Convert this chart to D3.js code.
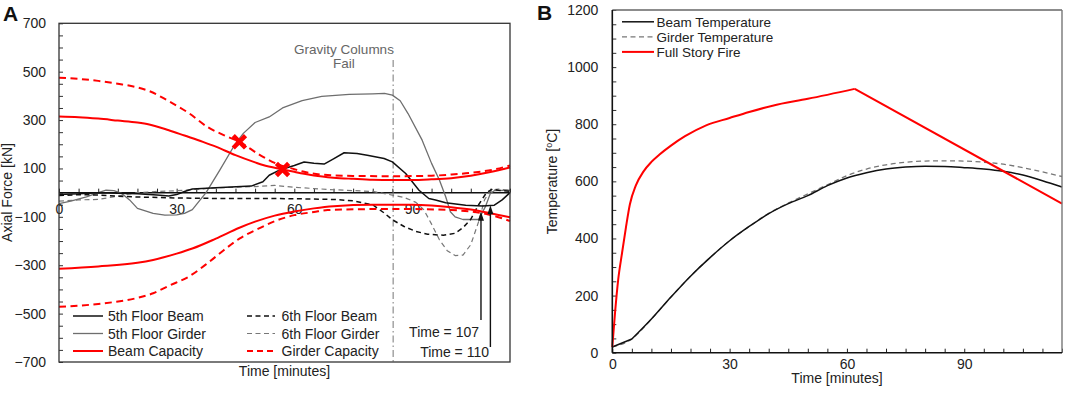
<!DOCTYPE html>
<html>
<head>
<meta charset="utf-8">
<script src="https://cdn.jsdelivr.net/npm/d3@7"></script>
<style>
  html, body { margin: 0; padding: 0; background: #fff; }
  svg { display: block; font-family: "Liberation Sans", Arial, sans-serif; }
</style>
</head>
<body>
<svg id="chart" width="1065" height="395"></svg>
<script>
// ---------- Panel A data: [time (min), axial force (kN)] ----------
const floor5Beam = [[0,-8],[5,-5],[10,0],[15,-2],[20,-5],[25,-10],[28,-14],[30,-8],[32,5],[34,15],[40,20],[49,27],[52,45],[53.6,72],[56.2,93],[57.5,100],[60,112],[62.5,127],[65,122],[67.6,118],[70,140],[72.7,165],[76,162],[78.6,155],[82.9,141],[85,127],[88.4,79],[91.8,10],[94.3,-24],[96,-30],[98.6,-42],[103.7,-52],[108,-55],[111,-52],[113,-30],[115,0]];
const floor5Girder = [[0,-45],[3,-35],[7,-17],[10,0],[12,10],[14,8],[16,-3],[18,-30],[20,-65],[24,-86],[27,-93],[30,-92],[32,-86],[34,-70],[36,-30],[37.5,0],[41,93],[45,203],[47,245],[50,290],[53.6,313],[57,350],[62,380],[67,398],[74,406],[80,408],[83,410],[85,403],[87,380],[89,327],[92.6,217],[95,121],[97,52],[98.6,-17],[99.8,-79],[101,-100],[103,-111],[107,-111],[108.7,-59],[110,-3],[111,8],[115,10]];
const floor6Beam = [[0,-12],[5,-8],[10,-10],[15,-15],[20,-18],[30,-22],[40,-24],[50,-24],[60,-25],[70,-28],[75,-34],[80,-50],[83,-85],[85,-112],[88,-140],[91,-160],[94,-172],[98,-176],[101,-168],[103,-145],[105,-110],[107,-50],[109,0],[110.5,15],[112,10],[115,5]];
const floor6Girder = [[0,-35],[5,-30],[10,-28],[13,-20],[17,-8],[20,0],[25,5],[30,8],[40,20],[50,25],[55,30],[60,22],[65,17],[70,12],[80,5],[85,-10],[88,-20],[91,-40],[93,-70],[95,-130],[97,-195],[99,-240],[101,-260],[103,-258],[105,-215],[107,-120],[108.5,-30],[110,10],[112,15],[115,10]];
const beamCapPos = [[0,315],[5,312],[10,306],[15,298],[20,290],[23,282],[28,258],[32,236],[36.7,210],[40,190],[45,155],[50,125],[52,114],[57,96],[60,86],[62.5,78],[65,71],[70,62],[75,57],[80,53],[85,52],[90,52],[95,55],[100,60],[105,70],[110,85],[115,104]];
const beamCapNeg = [[0,-315],[10,-305],[20,-290],[24,-278],[30,-252],[34,-231],[40,-190],[46,-145],[50,-120],[55,-95],[60,-78],[65,-65],[70,-56],[80,-50],[90,-50],[95,-53],[100,-60],[105,-70],[110,-85],[115,-102]];
const girderCapPos = [[0,475],[5,470],[10,462],[15,450],[20,435],[23,420],[28,378],[33,330],[38,270],[42,238],[46,210],[51,158],[56,116],[60,97],[62.5,86],[67.5,74],[75,69],[85,68],[95,70],[100,75],[105,82],[111,96],[115,112]];
const girderCapNeg = [[0,-472],[10,-460],[20,-435],[24,-416],[28,-385],[33,-348],[38,-290],[42,-238],[46,-190],[51,-148],[55,-118],[60,-93],[65,-80],[68.5,-72],[80,-68],[90,-68],[100,-72],[105,-78],[110,-92],[115,-117]];
const failureMarks = [[46,210],[57,96]];
const columnFailTime = 85.2;
const arrowTimes = [107.6, 110];
const arrowTips = [-79, -52];
const arrowLabels = ["Time = 107", "Time = 110"];
const yTicksA = [700, 500, 300, 100, -100, -300, -500, -700];
const xTicksA = [0, 30, 60, 90];

// ---------- Panel B data: [time (min), temperature (°C)] ----------
const fireTemp = [[0,20],[0.7,140],[1.5,255],[2.5,350],[3.5,440],[4.5,520],[6,585],[8,635],[10,668],[12,693],[15,725],[18.6,758],[24,796],[30,822],[35,843],[41,865],[50,889],[62,924],[115,522]];
const beamTemp = [[0,20],[5,48],[10,118],[15,195],[20,268],[25,333],[30,392],[35,442],[40,487],[45,522],[50,550],[55,585],[60,612],[65,630],[70,643],[75,650],[80,653],[85,652],[90,648],[95,643],[100,635],[105,622],[110,602],[115,580]];
const girderTemp = [[0,20],[5,48],[10,118],[15,195],[20,268],[25,333],[30,392],[35,442],[40,488],[45,524],[50,556],[55,588],[60,620],[65,643],[70,658],[75,667],[80,671],[85,672],[90,671],[95,667],[100,660],[105,648],[110,633],[115,617]];
const yTicksB = [0, 200, 400, 600, 800, 1000, 1200];
const xTicksB = [0, 30, 60, 90];

const svg = d3.select("#chart");
const FONT = 14;

// ---------- Panel A ----------
const xA = d3.scaleLinear().domain([0, 115]).range([59, 510]);
const yA = d3.scaleLinear().domain([-700, 700]).range([362, 23.3]);
const gA = svg.append("g");

gA.append("g").attr("transform", `translate(${xA(0)},0)`)
  .call(d3.axisLeft(yA).tickValues(d3.range(-700, 701, 50)).tickSizeInner(-4).tickSizeOuter(0).tickFormat(""))
  .call(g => g.select(".domain").remove())
  .call(g => g.selectAll("line").attr("stroke", "#333"));
gA.append("g").attr("transform", `translate(${xA(0)},0)`)
  .call(d3.axisLeft(yA).tickValues(yTicksA).tickSize(0).tickPadding(13).tickFormat(d3.format("d")))
  .call(g => g.select(".domain").remove())
  .call(g => g.selectAll("text").attr("font-size", FONT).attr("fill", "#222").attr("font-family", "Liberation Sans, Arial"));

gA.append("g").attr("transform", `translate(0,${yA(0)})`)
  .call(d3.axisBottom(xA).tickValues(d3.range(0, 116, 5)).tickSizeInner(-4).tickSizeOuter(0).tickFormat(""))
  .call(g => g.select(".domain").remove())
  .call(g => g.selectAll("line").attr("stroke", "#222"));
gA.append("g").attr("transform", `translate(0,${yA(0)})`)
  .call(d3.axisBottom(xA).tickValues(xTicksA).tickSize(0).tickPadding(11.5).tickFormat(d3.format("d")))
  .call(g => g.select(".domain").remove())
  .call(g => g.selectAll("text").attr("font-size", FONT).attr("fill", "#222").attr("font-family", "Liberation Sans, Arial"));

gA.append("line").attr("x1", xA(0)).attr("x2", xA(115)).attr("y1", yA(0)).attr("y2", yA(0))
  .attr("stroke", "#111").attr("stroke-width", 1.5);

gA.append("line").attr("x1", xA(columnFailTime)).attr("x2", xA(columnFailTime))
  .attr("y1", 60).attr("y2", yA(-700))
  .attr("stroke", "#777").attr("stroke-width", 1).attr("stroke-dasharray", "7,3,1.5,3");
gA.append("text").attr("x", 344).attr("y", 54).attr("text-anchor", "middle")
  .attr("font-size", 13.5).attr("fill", "#666").text("Gravity Columns");
gA.append("text").attr("x", 344).attr("y", 68).attr("text-anchor", "middle")
  .attr("font-size", 13.5).attr("fill", "#666").text("Fail");

const lineA = d3.line().x(d => xA(d[0])).y(d => yA(d[1]));
const smoothA = d3.line().curve(d3.curveMonotoneX).x(d => xA(d[0])).y(d => yA(d[1]));

const seriesA = [
  { data: floor6Girder, gen: lineA, color: "#777", width: 1.2, dash: "5,3.5" },
  { data: floor5Girder, gen: lineA, color: "#6e6e6e", width: 1.3, dash: null },
  { data: floor6Beam, gen: lineA, color: "#111", width: 1.5, dash: "5,3.5" },
  { data: floor5Beam, gen: lineA, color: "#111", width: 1.5, dash: null },
  { data: beamCapPos, gen: smoothA, color: "#f00", width: 2, dash: null },
  { data: beamCapNeg, gen: smoothA, color: "#f00", width: 2, dash: null },
  { data: girderCapPos, gen: smoothA, color: "#f00", width: 2, dash: "7,4.5" },
  { data: girderCapNeg, gen: smoothA, color: "#f00", width: 2, dash: "7,4.5" }
];
seriesA.forEach(s => {
  gA.append("path").attr("d", s.gen(s.data)).attr("fill", "none")
    .attr("stroke", s.color).attr("stroke-width", s.width)
    .attr("stroke-dasharray", s.dash).attr("stroke-linejoin", "round");
});

failureMarks.forEach(m => {
  const cx = xA(m[0]), cy = yA(m[1]);
  gA.append("path").attr("d", d3.symbol().type(d3.symbolX).size(100)())
    .attr("transform", `translate(${cx},${cy})`)
    .attr("fill", "none").attr("stroke", "#f00").attr("stroke-width", 4.5);
});

const arrowBottoms = [320, 347];
const labelBaselines = [336.5, 356.5];
const labelRight = [479, 489];
arrowTimes.forEach((t, i) => {
  const x = xA(t), tipY = yA(arrowTips[i]);
  gA.append("line").attr("x1", x).attr("x2", x).attr("y1", arrowBottoms[i]).attr("y2", tipY + 7)
    .attr("stroke", "#111").attr("stroke-width", 1.4);
  gA.append("path").attr("d", `M${x},${tipY} L${x - 3},${tipY + 9} L${x + 3},${tipY + 9} Z`).attr("fill", "#111");
  gA.append("text").attr("x", labelRight[i]).attr("y", labelBaselines[i]).attr("text-anchor", "end")
    .attr("font-size", FONT).attr("fill", "#222").text(arrowLabels[i]);
});

gA.append("rect").attr("x", xA(0)).attr("y", yA(700)).attr("width", xA(115) - xA(0)).attr("height", yA(-700) - yA(700))
  .attr("fill", "none").attr("stroke", "#333").attr("stroke-width", 1.3);

const legendA = [
  { label: "5th Floor Beam", color: "#111", width: 1.5, dash: null, col: 0, row: 0 },
  { label: "5th Floor Girder", color: "#6e6e6e", width: 1.3, dash: null, col: 0, row: 1 },
  { label: "Beam Capacity", color: "#f00", width: 2, dash: null, col: 0, row: 2 },
  { label: "6th Floor Beam", color: "#111", width: 1.5, dash: "5,3.5", col: 1, row: 0 },
  { label: "6th Floor Girder", color: "#777", width: 1.2, dash: "5,3.5", col: 1, row: 1 },
  { label: "Girder Capacity", color: "#f00", width: 2, dash: "6,4", col: 1, row: 2 }
];
const legRowsA = [316, 333.5, 351];
const legColsA = [{ x1: 73, x2: 103, tx: 108 }, { x1: 247, x2: 275, tx: 281.5 }];
legendA.forEach(l => {
  const c = legColsA[l.col], y = legRowsA[l.row];
  gA.append("line").attr("x1", c.x1).attr("x2", c.x2).attr("y1", y).attr("y2", y)
    .attr("stroke", l.color).attr("stroke-width", l.width).attr("stroke-dasharray", l.dash);
  gA.append("text").attr("x", c.tx).attr("y", y + 5).attr("font-size", FONT).attr("fill", "#222").text(l.label);
});

gA.append("text").attr("transform", `translate(12,192.5) rotate(-90)`).attr("text-anchor", "middle")
  .attr("font-size", FONT).attr("fill", "#222").text("Axial Force [kN]");
gA.append("text").attr("x", 284.5).attr("y", 376).attr("text-anchor", "middle")
  .attr("font-size", FONT).attr("fill", "#222").text("Time [minutes]");
svg.append("text").attr("x", 3).attr("y", 21).attr("font-size", 21).attr("font-weight", "bold").attr("fill", "#111").text("A");

// ---------- Panel B ----------
const xB = d3.scaleLinear().domain([0, 115]).range([612.3, 1062]);
const yB = d3.scaleLinear().domain([0, 1200]).range([352.7, 10]);
const gB = svg.append("g");

gB.append("g").attr("transform", `translate(${xB(0)},0)`)
  .call(d3.axisLeft(yB).tickValues(d3.range(0, 1201, 50)).tickSizeInner(-4).tickSizeOuter(0).tickFormat(""))
  .call(g => g.select(".domain").remove())
  .call(g => g.selectAll("line").attr("stroke", "#333"));
gB.append("g").attr("transform", `translate(${xB(0)},0)`)
  .call(d3.axisLeft(yB).tickValues(yTicksB).tickSize(0).tickPadding(14).tickFormat(d3.format("d")))
  .call(g => g.select(".domain").remove())
  .call(g => g.selectAll("text").attr("font-size", FONT).attr("fill", "#222").attr("font-family", "Liberation Sans, Arial"));
gB.append("g").attr("transform", `translate(0,${yB(0)})`)
  .call(d3.axisBottom(xB).tickValues(d3.range(0, 116, 5)).tickSizeInner(-4).tickSizeOuter(0).tickFormat(""))
  .call(g => g.select(".domain").remove())
  .call(g => g.selectAll("line").attr("stroke", "#222"));
gB.append("g").attr("transform", `translate(0,${yB(0)})`)
  .call(d3.axisBottom(xB).tickValues(xTicksB).tickSize(0).tickPadding(6).tickFormat(d3.format("d")))
  .call(g => g.select(".domain").remove())
  .call(g => g.selectAll("text").attr("font-size", FONT).attr("fill", "#222").attr("font-family", "Liberation Sans, Arial"));

const smoothB = d3.line().curve(d3.curveMonotoneX).x(d => xB(d[0])).y(d => yB(d[1]));
const lineB = d3.line().x(d => xB(d[0])).y(d => yB(d[1]));
gB.append("path").attr("d", smoothB(girderTemp)).attr("fill", "none").attr("stroke", "#777").attr("stroke-width", 1.3).attr("stroke-dasharray", "5,3.5");
gB.append("path").attr("d", smoothB(beamTemp.slice(1))).attr("fill", "none").attr("stroke", "#111").attr("stroke-width", 1.5);
gB.append("path").attr("d", lineB(beamTemp.slice(0, 2))).attr("fill", "none").attr("stroke", "#111").attr("stroke-width", 1.5);
gB.append("path").attr("d", smoothB(fireTemp.slice(0, -1))).attr("fill", "none").attr("stroke", "#f00").attr("stroke-width", 2);
gB.append("path").attr("d", lineB(fireTemp.slice(-2))).attr("fill", "none").attr("stroke", "#f00").attr("stroke-width", 2);

gB.append("line").attr("x1", xB(0)).attr("x2", xB(115)).attr("y1", yB(1200)).attr("y2", yB(1200)).attr("stroke", "#666").attr("stroke-width", 1.4);
gB.append("line").attr("x1", xB(115)).attr("x2", xB(115)).attr("y1", yB(1200)).attr("y2", yB(0)).attr("stroke", "#777").attr("stroke-width", 1.4);
gB.append("line").attr("x1", xB(0)).attr("x2", xB(115)).attr("y1", yB(0)).attr("y2", yB(0)).attr("stroke", "#111").attr("stroke-width", 1.6);
gB.append("line").attr("x1", xB(0)).attr("x2", xB(0)).attr("y1", yB(1200)).attr("y2", yB(0)).attr("stroke", "#111").attr("stroke-width", 1.6);

const legendB = [
  { label: "Beam Temperature", color: "#111", width: 1.5, dash: null },
  { label: "Girder Temperature", color: "#777", width: 1.3, dash: "5,3.5" },
  { label: "Full Story Fire", color: "#f00", width: 2, dash: null }
];
const legRowsB = [21.8, 36.8, 51.9];
legendB.forEach((l, i) => {
  const y = legRowsB[i];
  gB.append("line").attr("x1", 622).attr("x2", 654).attr("y1", y).attr("y2", y)
    .attr("stroke", l.color).attr("stroke-width", l.width).attr("stroke-dasharray", l.dash);
  gB.append("text").attr("x", 656.5).attr("y", y + 5).attr("font-size", 13.5).attr("fill", "#222").text(l.label);
});

const yt = gB.append("text").attr("transform", `translate(557,181.5) rotate(-90)`).attr("text-anchor", "middle")
  .attr("font-size", FONT).attr("fill", "#222");
yt.append("tspan").text("Temperature [");
yt.append("tspan").attr("font-size", 9).attr("dy", -5).text("o");
yt.append("tspan").attr("dy", 5).text("C]");
gB.append("text").attr("x", 837).attr("y", 383).attr("text-anchor", "middle")
  .attr("font-size", FONT).attr("fill", "#222").text("Time [minutes]");
svg.append("text").attr("x", 537).attr("y", 20).attr("font-size", 21).attr("font-weight", "bold").attr("fill", "#111").text("B");
</script>
</body>
</html>
